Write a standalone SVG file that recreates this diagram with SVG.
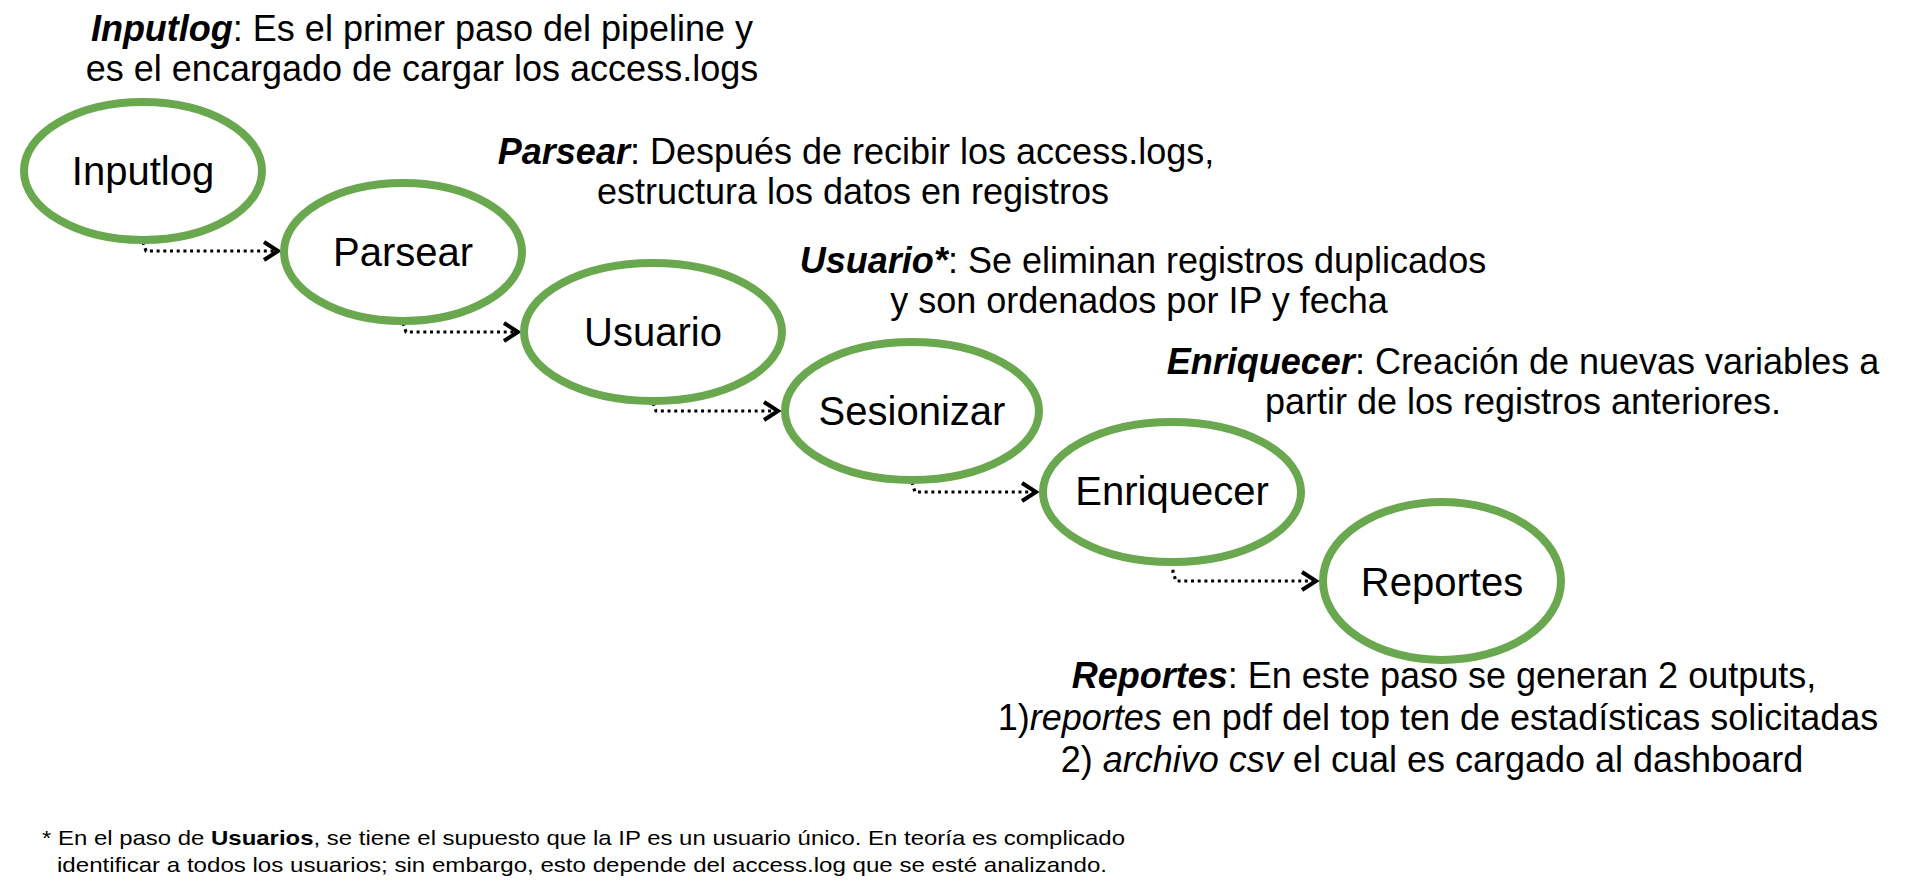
<svg xmlns="http://www.w3.org/2000/svg" width="1908" height="888" viewBox="0 0 1908 888">
<style>
.node ellipse{fill:#ffffff;stroke:#6aa84f;stroke-width:8}
.lbl{font-family:"Liberation Sans",Arial,sans-serif;font-size:40px;fill:#000;text-anchor:middle}
.desc{font-family:"Liberation Sans",Arial,sans-serif;font-size:36px;fill:#000;text-anchor:middle}
.bi{font-weight:bold;font-style:italic}
.it{font-style:italic}
.foot{font-family:"Liberation Sans",Arial,sans-serif;font-size:21px;fill:#000}
.conn{fill:none;stroke:#000;stroke-width:3.2;stroke-dasharray:3 3.7;marker-end:url(#chev)}
</style>
<defs>
<marker id="chev" markerUnits="userSpaceOnUse" markerWidth="22" markerHeight="22" viewBox="0 0 22 22" refX="19" refY="11" orient="auto">
<path d="M4,2 L18,11 L4,20" fill="none" stroke="#000" stroke-width="4"/>
</marker>
</defs>
<rect width="1908" height="888" fill="#ffffff"/>

<g id="connectors">
<path class="conn" d="M143,242 L146,251 L279,251"/>
<path class="conn" d="M403,323 L406,332 L519,332"/>
<path class="conn" d="M653,403 L656,411 L779,411"/>
<path class="conn" d="M912,482 L915,492 L1037,492"/>
<path class="conn" d="M1173,563 L1173,572 L1176,581 L1317,581"/>
</g>

<g id="node-inputlog" class="node">
<ellipse cx="143" cy="171" rx="119" ry="69"/>
<text class="lbl" x="143" y="185">Inputlog</text>
</g>
<g id="node-parsear" class="node">
<ellipse cx="403" cy="252" rx="119" ry="69"/>
<text class="lbl" x="403" y="266">Parsear</text>
</g>
<g id="node-usuario" class="node">
<ellipse cx="653" cy="332" rx="129" ry="69"/>
<text class="lbl" x="653" y="346">Usuario</text>
</g>
<g id="node-sesionizar" class="node">
<ellipse cx="912" cy="411" rx="127" ry="69"/>
<text class="lbl" x="912" y="425">Sesionizar</text>
</g>
<g id="node-enriquecer" class="node">
<ellipse cx="1172" cy="492" rx="129" ry="70"/>
<text class="lbl" x="1172" y="505">Enriquecer</text>
</g>
<g id="node-reportes" class="node">
<ellipse cx="1442" cy="581" rx="119" ry="79"/>
<text class="lbl" x="1442" y="596">Reportes</text>
</g>

<g id="desc-inputlog">
<text class="desc" x="422" y="41"><tspan class="bi">Inputlog</tspan>: Es el primer paso del pipeline y</text>
<text class="desc" x="422" y="81">es el encargado de cargar los access.logs</text>
</g>
<g id="desc-parsear">
<text class="desc" x="856" y="164"><tspan class="bi">Parsear</tspan>: Después de recibir los access.logs,</text>
<text class="desc" x="853" y="204">estructura los datos en registros</text>
</g>
<g id="desc-usuario">
<text class="desc" x="1143" y="273"><tspan class="bi">Usuario*</tspan>: Se eliminan registros duplicados</text>
<text class="desc" x="1139" y="313">y son ordenados por IP y fecha</text>
</g>
<g id="desc-enriquecer">
<text class="desc" x="1523" y="374"><tspan class="bi">Enriquecer</tspan>: Creación de nuevas variables a</text>
<text class="desc" x="1523" y="414">partir de los registros anteriores.</text>
</g>
<g id="desc-reportes">
<text class="desc" x="1444" y="688"><tspan class="bi">Reportes</tspan>: En este paso se generan 2 outputs,</text>
<text class="desc" x="1438" y="730">1)<tspan class="it">reportes</tspan> en pdf del top ten de estadísticas solicitadas</text>
<text class="desc" x="1432" y="772">2) <tspan class="it">archivo csv</tspan> el cual es cargado al dashboard</text>
</g>
<g id="footnote">
<text class="foot" x="42" y="845" textLength="1083" lengthAdjust="spacingAndGlyphs">* En el paso de <tspan font-weight="bold">Usuarios</tspan>, se tiene el supuesto que la IP es un usuario único. En teoría es complicado</text>
<text class="foot" x="57" y="872" textLength="1050" lengthAdjust="spacingAndGlyphs">identificar a todos los usuarios; sin embargo, esto depende del access.log que se esté analizando.</text>
</g>
</svg>
